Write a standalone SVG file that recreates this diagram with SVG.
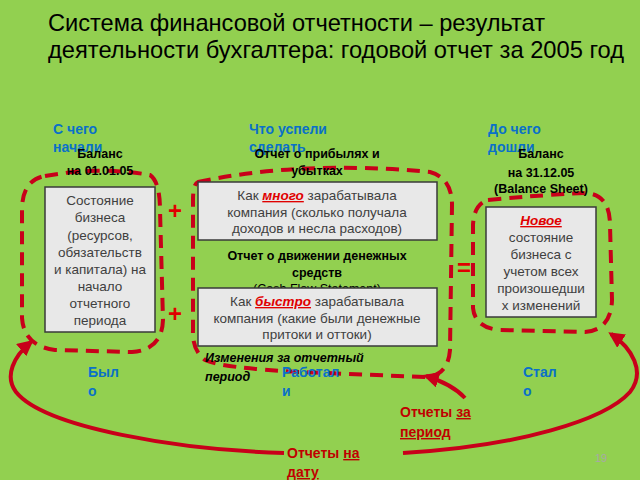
<svg xmlns="http://www.w3.org/2000/svg" width="640" height="480" viewBox="0 0 640 480">
<defs>
<style>
text{font-family:"Liberation Sans",Arial,sans-serif}
.title{font-size:24px;fill:#000}
.box{fill:#E8E8E8;stroke:#3A3A3A;stroke-width:1.5}
.bt{font-size:13.5px;fill:#404040;text-anchor:middle}
.lbl{font-size:12.5px;font-weight:bold;fill:#000;text-anchor:middle}
.blue{font-size:14px;font-weight:bold;fill:#0A70C8}
.red{font-size:14px;font-weight:bold;fill:#C00000}
.em{fill:#E00000;font-weight:bold;font-style:italic;text-decoration:underline}
.loop{fill:none;stroke:#C8001A;stroke-width:4;stroke-dasharray:13 8}
.arr{fill:none;stroke:#C8001A;stroke-width:4;marker-end:url(#ah)}
.sign{font-size:24px;font-weight:bold;fill:#E00000;text-anchor:middle}
.it{font-size:12.5px;font-weight:bold;font-style:italic;fill:#000}
</style>
<marker id="ah" viewBox="0 0 10 10" refX="8" refY="5" markerWidth="16" markerHeight="16" markerUnits="userSpaceOnUse" orient="auto">
<path d="M0,0 L10,5 L0,10 Z" fill="#C8001A"/>
</marker>
</defs>
<rect x="0" y="0" width="640" height="480" fill="#92D050"/>
<text class="title" x="48" y="31" textLength="497" lengthAdjust="spacingAndGlyphs">Система финансовой отчетности – результат</text>
<text class="title" x="48" y="58" textLength="576" lengthAdjust="spacingAndGlyphs">деятельности бухгалтера: годовой отчет за 2005 год</text>

<g id="loops">
<path class="loop" d="M45 176 Q100 166 150 175 Q160 182 160 210 L163 320 Q162 350 132 352 L55 350 Q24 346 22 318 L22 210 Q22 180 45 176 Z"/>
<path class="loop" d="M198 182 Q300 160 430 172 Q452 178 452 205 L450 350 Q448 376 425 377 L300 372 Q222 368 205 360 Q192 350 193 330 L193 200 Q193 184 198 182 Z"/>
<path class="loop" d="M488 200 Q540 195 585 193 Q610 194 610 225 L612 300 Q611 330 585 332 L500 330 Q475 328 473 308 L473 225 Q474 204 488 200 Z"/>
</g>

<g id="connectors">
<path class="arr" d="M284 453 C180 450 45 428 16 392 C4 376 14 356 31 342"/>
<path class="arr" d="M403 453 C520 446 605 420 630 392 C646 372 632 348 611 334"/>
<path class="arr" d="M465 398 Q452 384 426 376"/>
</g>

<g id="start">
<text class="blue" x="53" y="134">С чего</text>
<text class="blue" x="53" y="152">начали</text>
<text class="lbl" x="100" y="158">Баланс</text>
<text class="lbl" x="100" y="175">на 01.01.05</text>
<rect class="box" x="45" y="187" width="110" height="145"/>
<text class="bt" x="100" y="205">Состояние</text>
<text class="bt" x="100" y="222">бизнеса</text>
<text class="bt" x="100" y="240">(ресурсов,</text>
<text class="bt" x="100" y="257">обязательств</text>
<text class="bt" x="100" y="274">и капитала) на</text>
<text class="bt" x="100" y="291">начало</text>
<text class="bt" x="100" y="308">отчетного</text>
<text class="bt" x="100" y="325">периода</text>
</g>

<g id="pnl">
<text class="blue" x="249" y="134">Что успели</text>
<text class="blue" x="249" y="152">сделать</text>
<text class="lbl" x="317" y="158">Отчет о прибылях и</text>
<text class="lbl" x="317" y="175">убытках</text>
<rect class="box" x="198" y="182" width="239" height="58"/>
<text class="bt" x="317" y="200">Как <tspan class="em">много</tspan> зарабатывала</text>
<text class="bt" x="317" y="217">компания (сколько получала</text>
<text class="bt" x="317" y="233">доходов и несла расходов)</text>
</g>

<g id="cashflow">
<text class="lbl" x="317" y="260">Отчет о движении денежных</text>
<text class="lbl" x="317" y="277">средств</text>
<text class="lbl" x="317" y="293" style="font-weight:normal">(Cash Flow Statement)</text>
<rect class="box" x="198" y="288" width="239" height="58"/>
<text class="bt" x="317" y="306">Как <tspan class="em">быстро</tspan> зарабатывала</text>
<text class="bt" x="317" y="323">компания (какие были денежные</text>
<text class="bt" x="317" y="339">притоки и оттоки)</text>
<text class="it" x="205" y="362">Изменения за отчетный</text>
<text class="it" x="205" y="381">период</text>
</g>

<g id="end">
<text class="blue" x="488" y="134">До чего</text>
<text class="blue" x="488" y="152">дошли</text>
<text class="lbl" x="541" y="158">Баланс</text>
<text class="lbl" x="541" y="177">на 31.12.05</text>
<text class="lbl" x="541" y="193">(Balance Sheet)</text>
<rect class="box" x="486" y="207" width="110" height="110"/>
<text class="bt" x="541" y="225"><tspan class="em">Новое</tspan></text>
<text class="bt" x="541" y="242">состояние</text>
<text class="bt" x="541" y="259">бизнеса с</text>
<text class="bt" x="541" y="276">учетом всех</text>
<text class="bt" x="541" y="293">произошедши</text>
<text class="bt" x="541" y="310">х изменений</text>
</g>

<g id="signs">
<text class="sign" x="175" y="219">+</text>
<text class="sign" x="175" y="322">+</text>
<text class="sign" x="464" y="276">=</text>
</g>

<g id="labels">
<text class="blue" x="88" y="377">Был</text>
<text class="blue" x="88" y="396">о</text>
<text class="blue" x="282" y="377">Работал</text>
<text class="blue" x="282" y="396">и</text>
<text class="blue" x="523" y="377">Стал</text>
<text class="blue" x="523" y="396">о</text>
<text class="red" x="400" y="417">Отчеты <tspan text-decoration="underline">за</tspan></text>
<text class="red" x="400" y="437" text-decoration="underline">период</text>
<text class="red" x="287" y="458">Отчеты <tspan text-decoration="underline">на</tspan></text>
<text class="red" x="287" y="477" text-decoration="underline">дату</text>
<text x="595" y="462" style="font-size:11px;fill:#A8A8A8">19</text>
</g>
</svg>
